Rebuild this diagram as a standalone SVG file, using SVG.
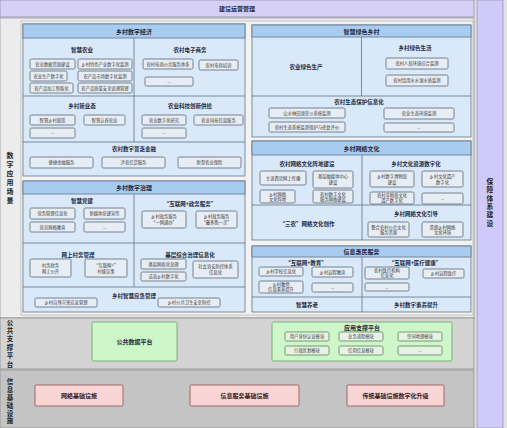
<svg xmlns="http://www.w3.org/2000/svg" width="507" height="428" viewBox="0 0 507 428">
<style>
text{font-family:"Noto Sans CJK SC","Noto Sans",sans-serif;text-anchor:middle;fill:#222}
.panel{fill:#d9e9f9;stroke:#5f7387;stroke-width:0.8}
.hdr{fill:#a8ccf0;stroke:#5f7387;stroke-width:0.8}
.dv{stroke:#5f7387;stroke-width:0.8;fill:none}
.box{fill:#e7edf4;stroke:#6a7582;stroke-width:0.9}
.g{fill:#cdf6c9;stroke:#7daf78;stroke-width:1}
.gb{fill:#e6f3e4;stroke:#6f8a6c;stroke-width:0.9}
.p{fill:#f8d4d4;stroke:#9a6a6a;stroke-width:1}
.t{font-size:6px;font-weight:bold;fill:#1e2840}
.s{font-size:5.5px;font-weight:bold;fill:#1e2840}
.b{font-size:4.3px;fill:#3a3a3a}
.v{writing-mode:vertical-rl;font-weight:bold;fill:#222}
.pt{font-size:6px;fill:#3a2020;font-weight:bold}
</style>
<rect x="0" y="0" width="507" height="428" fill="#e2e2e2"/>
<!-- top bar -->
<g id="top-bar">
<rect x="0" y="0" width="474" height="17" fill="#d6d0f7" stroke="#8f8caa" stroke-width="0.8"/>
<text class="t" x="237" y="11">建设运营管理</text>
</g>
<!-- right column -->
<g id="guarantee">
<rect x="477" y="0" width="26" height="428" fill="#cfcaf7" stroke="#9a97b8" stroke-width="0.8"/>
<text class="v" x="490" y="203" style="font-size:6.8px;letter-spacing:1.5px">保障体系建设</text>
</g>
<!-- scenario area -->
<g id="scenario-area">
<rect x="0" y="18" width="474" height="300" fill="#ececec" stroke="#9a9a9a" stroke-width="0.8"/>
<rect x="21" y="21" width="452" height="294" fill="#f3f3f3" stroke="#a8a8a8" stroke-width="0.6"/>
<text class="v" x="10" y="178.5" style="font-size:7px;letter-spacing:2px">数字应用场景</text>
</g>

<!-- 乡村数字经济 -->
<g id="digital-economy">
<rect class="panel" x="23" y="24" width="222" height="152"/>
<rect class="hdr" x="23" y="24" width="222" height="14"/>
<text class="t" x="134" y="33.5">乡村数字经济</text>
<path class="dv" d="M134 38V142M23 96H245M23 142H245"/>
<text class="s" x="82" y="52">智慧农业</text>
<rect class="box" x="30" y="59" width="45" height="10" rx="1.5"/><text class="b" x="52.5" y="65.5">农业数据资源建设</text>
<rect class="box" x="78" y="59" width="54" height="10" rx="1.5"/><text class="b" x="105" y="65.5">乡村特色产业数字化监测</text>
<rect class="box" x="30" y="71" width="37" height="10" rx="1.5"/><text class="b" x="48.5" y="77.5">农业生产数字化</text>
<rect class="box" x="78" y="71" width="54" height="10" rx="1.5"/><text class="b" x="105" y="77.5">农产品市场数字化监测</text>
<rect class="box" x="30" y="83" width="43" height="10" rx="1.5"/><text class="b" x="51.5" y="89.5">农产品加工智能化</text>
<rect class="box" x="78" y="83" width="54" height="10" rx="1.5"/><text class="b" x="105" y="89.5">农产品质量安全追溯管理</text>
<text class="s" x="190" y="52">农村电子商务</text>
<rect class="box" x="143" y="59" width="50" height="10" rx="1.5"/><text class="b" x="168" y="65.5">农村电商公共服务体系</text>
<rect class="box" x="199" y="60" width="39" height="10" rx="1.5"/><text class="b" x="218.5" y="66.5">农村电商培训</text>
<rect class="box" x="145" y="77" width="48" height="9" rx="1.5"/><text class="b" x="169" y="83">...</text>
<text class="s" x="82" y="108">乡村新业态</text>
<rect class="box" x="30" y="115" width="45" height="10" rx="1.5"/><text class="b" x="52.5" y="121.5">智慧乡村旅游</text>
<rect class="box" x="84" y="115" width="41" height="10" rx="1.5"/><text class="b" x="104.5" y="121.5">智慧认养农业</text>
<rect class="box" x="30" y="128" width="45" height="10" rx="1.5"/><text class="b" x="52.5" y="134">...</text>
<text class="s" x="190" y="108">农业科技创新供给</text>
<rect class="box" x="142" y="115" width="44" height="10" rx="1.5"/><text class="b" x="164" y="121.5">农业数字化研究</text>
<rect class="box" x="194" y="115" width="49" height="10" rx="1.5"/><text class="b" x="218.5" y="121.5">农业科技信息服务</text>
<rect class="box" x="142" y="128" width="44" height="10" rx="1.5"/><text class="b" x="164" y="134">...</text>
<text class="s" x="134" y="151">农村数字普惠金融</text>
<rect class="box" x="30" y="157" width="63" height="11" rx="1.5"/><text class="b" x="61.5" y="164">便捷金融服务</text>
<rect class="box" x="102" y="157" width="63" height="11" rx="1.5"/><text class="b" x="133.5" y="164">涉农信贷服务</text>
<rect class="box" x="178" y="157" width="63" height="11" rx="1.5"/><text class="b" x="209.5" y="164">新型农业保险</text>
</g>

<!-- 乡村数字治理 -->
<g id="digital-governance">
<rect class="panel" x="23" y="181" width="222" height="131"/>
<rect class="hdr" x="23" y="181" width="222" height="13"/>
<text class="t" x="134" y="190">乡村数字治理</text>
<path class="dv" d="M134 194V287M23 243H245M23 287H245"/>
<text class="s" x="82" y="203">智慧党建</text>
<rect class="box" x="30" y="208" width="45" height="11" rx="1.5"/><text class="b" x="52.5" y="215">党务管理信息化</text>
<rect class="box" x="84" y="208" width="41" height="11" rx="1.5"/><text class="b" x="104.5" y="215">新媒体党建宣传</text>
<rect class="box" x="30" y="222" width="45" height="10" rx="1.5"/><text class="b" x="52.5" y="228.5">党员网络教育</text>
<rect class="box" x="84" y="222" width="41" height="10" rx="1.5"/><text class="b" x="104.5" y="228.5">...</text>
<text class="s" x="190" y="206">“互联网+政务服务”</text>
<rect class="box" x="142" y="211" width="44" height="17" rx="1.5"/><text class="b" x="164" y="218"><tspan x="164" y="218">乡村政务服务</tspan><tspan x="164" y="224">“一网通办”</tspan></text>
<rect class="box" x="196" y="211" width="41" height="17" rx="1.5"/><text class="b" x="216.5" y="218"><tspan x="216.5" y="218">乡村政务服务</tspan><tspan x="216.5" y="224">“最多跑一次”</tspan></text>
<text class="s" x="78" y="256.5">网上村务管理</text>
<rect class="box" x="30" y="259" width="41" height="18" rx="1.5"/><text class="b" x="50.5" y="266.5"><tspan x="50.5" y="266.5">村务财务</tspan><tspan x="50.5" y="272.5">网上公开</tspan></text>
<rect class="box" x="85" y="259" width="42" height="18" rx="1.5"/><text class="b" x="106" y="266.5"><tspan x="106" y="266.5">“互联网+”</tspan><tspan x="106" y="272.5">村级议事</tspan></text>
<text class="s" x="190" y="256.5">基层综合治理信息化</text>
<rect class="box" x="141" y="259" width="45" height="10" rx="1.5"/><text class="b" x="163.5" y="265.5">基层网格化治理</text>
<rect class="box" x="141" y="272" width="45" height="9" rx="1.5"/><text class="b" x="163.5" y="278">法治乡村数字化</text>
<rect class="box" x="193" y="261" width="45" height="17" rx="1.5"/><text class="b" x="215.5" y="268"><tspan x="215.5" y="268">社会治安防控体系</tspan><tspan x="215.5" y="274">信息化</tspan></text>
<text class="s" x="134" y="298">乡村智慧应急管理</text>
<rect class="box" x="35" y="298" width="62" height="9" rx="1.5"/><text class="b" x="66" y="304">乡村自然灾害应急管理</text>
<rect class="box" x="158" y="298" width="62" height="9" rx="1.5"/><text class="b" x="189" y="304">乡村公共卫生安全防控</text>
</g>

<!-- 智慧绿色乡村 -->
<g id="green-village">
<rect class="panel" x="252" y="25" width="219" height="112"/>
<rect class="hdr" x="252" y="25" width="219" height="12"/>
<text class="t" x="361.5" y="33.5">智慧绿色乡村</text>
<path class="dv" d="M361.5 37V96M252 96H471"/>
<text class="s" x="306" y="69">农业绿色生产</text>
<text class="s" x="415" y="50">乡村绿色生活</text>
<rect class="box" x="386" y="58" width="62" height="11" rx="1.5"/><text class="b" x="417" y="65">农村人居环境综合监测</text>
<rect class="box" x="386" y="75" width="62" height="11" rx="1.5"/><text class="b" x="417" y="82">农村饮用水水源水质监测</text>
<text class="s" x="359" y="104">农村生态保护信息化</text>
<rect class="box" x="269" y="108" width="76" height="10" rx="1.5"/><text class="b" x="307" y="114.5">山水林田湖草沙系统监测</text>
<rect class="box" x="269" y="122" width="76" height="10" rx="1.5"/><text class="b" x="307" y="128.5">农村生态系统监测保护与修复评价</text>
<rect class="box" x="384" y="108" width="70" height="11" rx="1.5"/><text class="b" x="419" y="115">农业生态环境监测</text>
<rect class="box" x="384" y="123" width="70" height="9" rx="1.5"/><text class="b" x="419" y="129">...</text>
</g>

<!-- 乡村网络文化 -->
<g id="network-culture">
<rect class="panel" x="252" y="141" width="219" height="99"/>
<rect class="hdr" x="252" y="141" width="219" height="14"/>
<text class="t" x="361.5" y="150.5">乡村网络文化</text>
<path class="dv" d="M362 155V240M252 205H471"/>
<text class="s" x="307" y="166">农村网络文化阵地建设</text>
<rect class="box" x="260" y="171" width="46" height="14" rx="1.5"/><text class="b" x="283" y="179.5">主流舆论网上传播</text>
<rect class="box" x="313" y="171" width="40" height="17" rx="1.5"/><text class="b" x="333"><tspan x="333" y="178">基层融媒体中心</tspan><tspan x="333" y="184">建设</tspan></text>
<rect class="box" x="260" y="190" width="35" height="13" rx="1.5"/><text class="b" x="277.5"><tspan x="277.5" y="195.5">乡村网络</tspan><tspan x="277.5" y="200.5">文化阵地</tspan></text>
<rect class="box" x="313" y="190" width="40" height="13" rx="1.5"/><text class="b" x="333"><tspan x="333" y="195.5">农村数字文化</tspan><tspan x="333" y="200.5">服务网络建设</tspan></text>
<text class="s" x="416" y="166">乡村文化资源数字化</text>
<rect class="box" x="370" y="171" width="44" height="16" rx="1.5"/><text class="b" x="392"><tspan x="392" y="178">乡村数字博物馆</tspan><tspan x="392" y="184">建设</tspan></text>
<rect class="box" x="422" y="171" width="41" height="16" rx="1.5"/><text class="b" x="442.5"><tspan x="442.5" y="178">乡村文化遗产</tspan><tspan x="442.5" y="184">数字化</tspan></text>
<rect class="box" x="370" y="192" width="44" height="12" rx="1.5"/><text class="b" x="392"><tspan x="392" y="197">农村非物质文化</tspan><tspan x="392" y="202">遗产数字化</tspan></text>
<rect class="box" x="422" y="193" width="41" height="11" rx="1.5"/><text class="b" x="442.5" y="199.5">...</text>
<text class="s" x="307" y="226">“三农”网络文化创作</text>
<text class="s" x="416" y="216">乡村网络文化引导</text>
<rect class="box" x="368" y="222" width="41" height="15" rx="1.5"/><text class="b" x="388.5"><tspan x="388.5" y="228.5">整合农村公共文化</tspan><tspan x="388.5" y="234">服务资源</tspan></text>
<rect class="box" x="422" y="222" width="41" height="15" rx="1.5"/><text class="b" x="442.5"><tspan x="442.5" y="228.5">清朗乡村网络</tspan><tspan x="442.5" y="234">文化环境</tspan></text>
</g>

<!-- 信息惠民服务 -->
<g id="info-services">
<rect class="panel" x="252" y="246" width="219" height="66"/>
<rect class="hdr" x="252" y="246" width="219" height="11"/>
<text class="t" x="361.5" y="254">信息惠民服务</text>
<path class="dv" d="M362 257V312M252 297H471"/>
<text class="s" x="306" y="265">“互联网+教育”</text>
<rect class="box" x="259" y="267" width="44" height="9" rx="1.5"/><text class="b" x="281" y="273">乡村学校信息化</text>
<rect class="box" x="312" y="267" width="41" height="10" rx="1.5"/><text class="b" x="332.5" y="273.5">乡村远程教育</text>
<rect class="box" x="259" y="281" width="44" height="12" rx="1.5"/><text class="b" x="281"><tspan x="281" y="286">乡村教师</tspan><tspan x="281" y="291">信息素养提升</tspan></text>
<rect class="box" x="312" y="283" width="41" height="9" rx="1.5"/><text class="b" x="332.5" y="289">...</text>
<text class="s" x="415" y="265">“互联网+医疗健康”</text>
<rect class="box" x="365" y="267" width="44" height="12" rx="1.5"/><text class="b" x="387"><tspan x="387" y="272">农村医疗机构</tspan><tspan x="387" y="277">信息化</tspan></text>
<rect class="box" x="423" y="269" width="41" height="9" rx="1.5"/><text class="b" x="443.5" y="275">乡村远程医疗</text>
<rect class="box" x="365" y="283" width="44" height="8" rx="1.5"/><text class="b" x="387" y="288.5">...</text>
<text class="s" x="307" y="307">智慧养老</text>
<text class="s" x="416" y="307">乡村数字素养提升</text>
</g>

<!-- 公共支撑平台 -->
<g id="support-platform">
<rect x="0" y="318" width="474" height="51" fill="#d3d3d3" stroke="#8e8e8e" stroke-width="0.8"/>
<text class="v" x="10" y="344" style="font-size:6.5px;letter-spacing:1.9px">公共支撑平台</text>
</g>
<g id="public-data">
<rect class="g" x="92" y="322" width="85" height="39" rx="1.5"/>
<text class="t" x="134.5" y="343.5">公共数据平台</text>
</g>
<g id="app-support">
<rect class="g" x="272" y="322" width="180" height="39" rx="1.5"/>
<text class="t" x="362" y="329.5">应用支撑平台</text>
<rect class="gb" x="285" y="332" width="44" height="9" rx="1.5"/><text class="b" x="307" y="338">用户身份认证模块</text>
<rect class="gb" x="339" y="332" width="44" height="9" rx="1.5"/><text class="b" x="361" y="338">业务流程模块</text>
<rect class="gb" x="398" y="332" width="44" height="9" rx="1.5"/><text class="b" x="420" y="338">空间地理模块</text>
<rect class="gb" x="285" y="346" width="44" height="9" rx="1.5"/><text class="b" x="307" y="352">行政区划模块</text>
<rect class="gb" x="339" y="346" width="44" height="9" rx="1.5"/><text class="b" x="361" y="352">信用信息模块</text>
<rect class="gb" x="398" y="346" width="44" height="9" rx="1.5"/><text class="b" x="420" y="352">...</text>
</g>

<!-- 信息基础设施 -->
<g id="infrastructure">
<rect x="0" y="370" width="474" height="58" fill="#c4c4c4" stroke="#8e8e8e" stroke-width="0.8"/>
<text class="v" x="10" y="402" style="font-size:6.5px;letter-spacing:1.3px">信息基础设施</text>
</g>
<g id="network-infra">
<rect class="p" x="35" y="385" width="88" height="21" rx="1"/>
<text class="pt" x="79" y="398">网络基础设施</text>
</g>
<g id="service-infra">
<rect class="p" x="190" y="385" width="109" height="21" rx="1"/>
<text class="pt" x="244.5" y="398">信息服务基础设施</text>
</g>
<g id="traditional-infra">
<rect class="p" x="347" y="385" width="97" height="21" rx="1"/>
<text class="pt" x="395.5" y="398">传统基础设施数字化升级</text>
</g>
</svg>
